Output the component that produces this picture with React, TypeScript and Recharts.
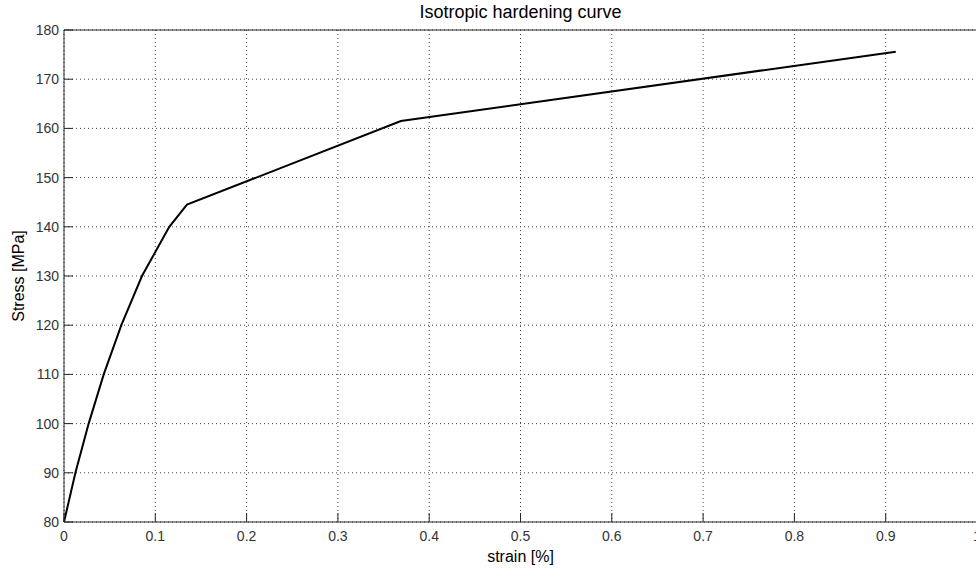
import React from 'react';
import { LineChart, Line, XAxis, YAxis, CartesianGrid, Label } from 'recharts';

const strain = [0, 0.0125, 0.027, 0.0435, 0.0628, 0.0854, 0.1153, 0.1347, 0.369, 0.911];
const stress = [80, 90, 100, 110, 120, 130, 140, 144.5, 161.5, 175.6];
const xTicks = [0, 0.1, 0.2, 0.3, 0.4, 0.5, 0.6, 0.7, 0.8, 0.9, 1];
const yTicks = [80, 90, 100, 110, 120, 130, 140, 150, 160, 170, 180];

const data = strain.map((s, i) => ({ strain: s, stress: stress[i] }));

const FONT = '"Liberation Sans", Arial, sans-serif';
const AXIS = '#262626';
const TXT = '#333333';

export default function App() {
  return (
    <div style={{ position: 'fixed', left: 0, top: 0, width: 976, height: 571, overflow: 'hidden', background: '#fff' }}>
      <LineChart width={990} height={571} data={data} margin={{ top: 0, right: 0, bottom: 0, left: 0 }} style={{ fontFamily: FONT }}>
        <CartesianGrid stroke="#444" strokeDasharray="1 3" />
        <XAxis
          dataKey="strain"
          type="number"
          domain={[0, 1]}
          ticks={xTicks}
          height={49}
          tickSize={-9}
          tickMargin={18}
          stroke={AXIS}
          tick={{ fill: TXT, fontSize: 14, fontFamily: FONT }}
          tickFormatter={(v: number) => String(v)}
          interval={0}
        >
          <Label value="strain [%]" position="insideBottom" offset={9} style={{ fill: '#000', fontSize: 16, fontFamily: FONT }} />
        </XAxis>
        <XAxis
          xAxisId="top"
          orientation="top"
          type="number"
          domain={[0, 1]}
          ticks={xTicks}
          height={30}
          tickSize={-9}
          stroke={AXIS}
          tick={false}
          interval={0}
        >
          <Label value="Isotropic hardening curve" position="insideBottom" offset={12} style={{ fill: '#000', fontSize: 18, fontFamily: FONT }} />
        </XAxis>
        <YAxis
          type="number"
          domain={[80, 180]}
          ticks={yTicks}
          width={64}
          tickSize={-9}
          tickMargin={14}
          stroke={AXIS}
          tick={{ fill: TXT, fontSize: 14, fontFamily: FONT }}
          interval={0}
        >
          <Label value="Stress [MPa]" angle={-90} position="insideLeft" offset={18} textAnchor="middle" style={{ textAnchor: 'middle', fill: '#000', fontSize: 16, fontFamily: FONT }} />
        </YAxis>
        <YAxis
          yAxisId="right"
          orientation="right"
          type="number"
          domain={[80, 180]}
          ticks={yTicks}
          width={13}
          tickSize={-9}
          stroke={AXIS}
          tick={false}
          interval={0}
        />
        <Line
          type="linear"
          dataKey="stress"
          stroke="#000"
          strokeWidth={2}
          dot={false}
          isAnimationActive={false}
        />
      </LineChart>
    </div>
  );
}
